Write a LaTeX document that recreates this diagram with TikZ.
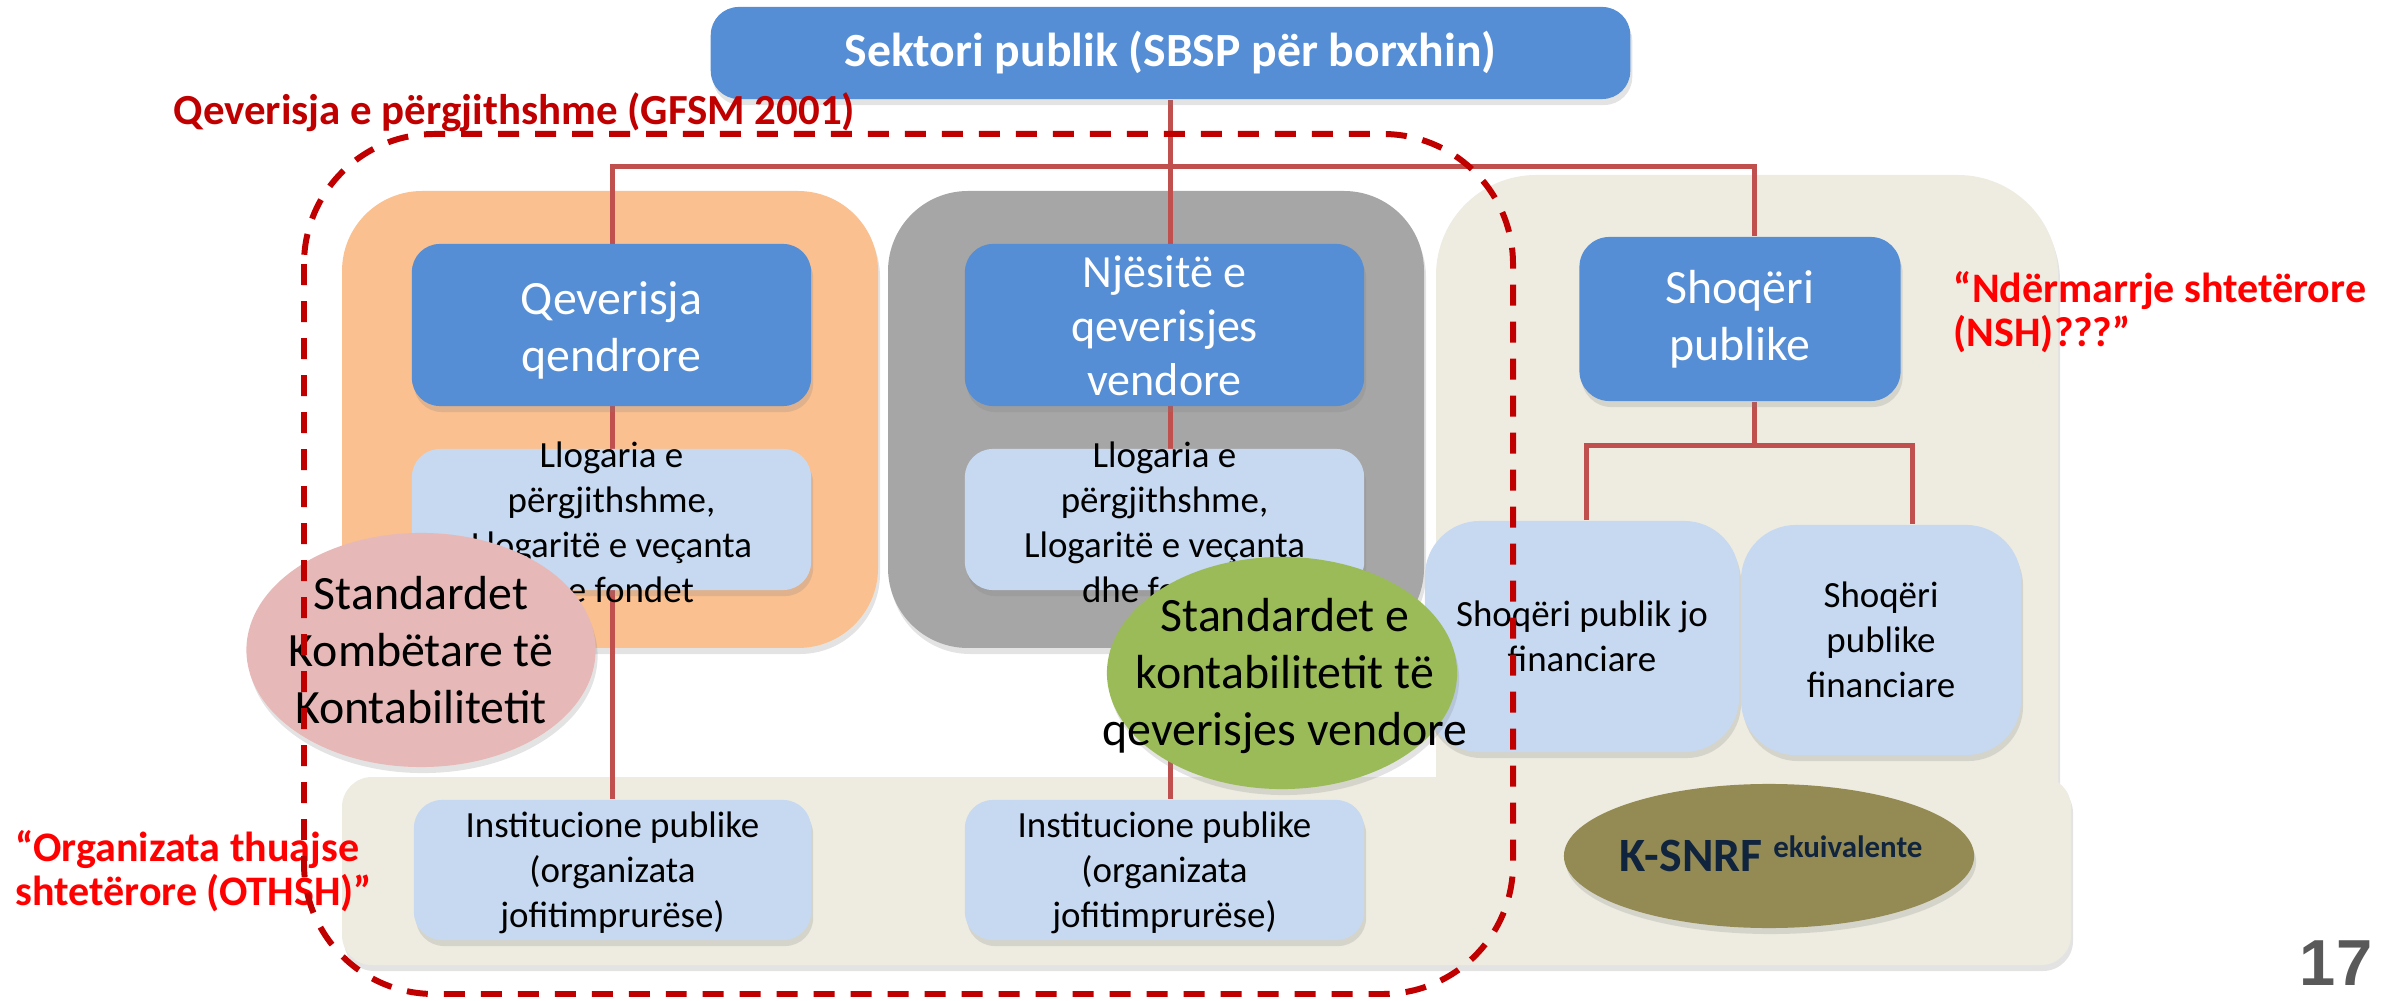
\documentclass[tikz,border=0pt]{standalone}
\usepackage{fontspec}
\setmainfont{Carlito}
\newfontfamily\pagefont{Liberation Sans}
\usetikzlibrary{shapes.geometric,shadows}
\definecolor{boxblue}{HTML}{558ED5}
\definecolor{lightblue}{HTML}{C6D9F1}
\definecolor{orangebg}{HTML}{FAC090}
\definecolor{graybg}{HTML}{A6A6A6}
\definecolor{beige}{HTML}{EEECE1}
\definecolor{pinkell}{HTML}{E6B9B8}
\definecolor{greenell}{HTML}{9BBB59}
\definecolor{oliveell}{HTML}{948A54}
\definecolor{navytxt}{HTML}{10243E}
\definecolor{connred}{HTML}{C0504D}
\definecolor{darkred}{HTML}{C00000}
\definecolor{brightred}{HTML}{FF0000}
\definecolor{pagegray}{HTML}{595959}
\pgfdeclarelayer{bg}
\pgfdeclarelayer{lines}
\pgfsetlayers{bg,lines,main}
\newcommand{\myfs}[2]{\fontsize{#1}{#2}\selectfont}
\begin{document}
\begin{tikzpicture}[x=0.01cm,y=-0.01cm,
 shad/.style={drop shadow={shadow xshift=0.02cm, shadow yshift=-0.06cm, opacity=0.22}},
 bluebox/.style={rectangle, rounded corners=0.28cm, fill=boxblue, draw=none, inner sep=0pt, shad},
 lbox/.style={rectangle, rounded corners=0.28cm, fill=lightblue, draw=none, inner sep=0pt, shad},
 ell/.style={ellipse, inner sep=0pt, draw=none, shad},
 wtxt/.style={text=white, align=center, inner sep=0pt, font={\myfs{13.6}{16.2}}},
 btxt/.style={text=black, align=center, inner sep=0pt, font={\myfs{10.5}{12.8}}},
 bigtxt/.style={text=black, align=center, inner sep=0pt, font={\myfs{13.6}{16.2}}},
 conn/.style={draw=connred, line width=1.42pt},
 govline/.style={draw=darkred, line width=1.7pt, dash pattern=on 5.97pt off 4.55pt},
 redlbl/.style={text=brightred, align=left, inner sep=0pt, font={\bfseries\myfs{11.95}{12.4}}},
]
\useasboundingbox (0,0) rectangle (2395,1001);

% ---------- backgrounds ----------
\begin{pgfonlayer}{bg}
\fill[beige, rounded corners=1cm, shad] (1436,175) rectangle (2058,940);
\fill[beige, rounded corners=0.3cm, shad] (342,777) rectangle (2071,965);
\fill[orangebg, rounded corners=0.8cm, shad] (342,191) rectangle (878,648);
\fill[graybg, rounded corners=0.8cm, shad] (888,191) rectangle (1424,648);
\end{pgfonlayer}

% ---------- boxes ----------
\node[bluebox, minimum width=9.19cm, minimum height=0.92cm, text=white, font={\bfseries\myfs{13.55}{16}}] (top) at (1170.5,53) {Sektori publik (SBSP për borxhin)};

\node[bluebox, minimum width=3.99cm, minimum height=1.62cm] (qq) at (611.5,325) {};
\node[wtxt] (qqt) at (611.5,330) {Qeverisja\\qendrore};
\node[bluebox, minimum width=3.99cm, minimum height=1.62cm] (nje) at (1164.5,325) {};
\node[wtxt, font={\myfs{13.1}{15.4}}] (njet) at (1164.5,326) {Njësitë e\\qeverisjes\\vendore};

\node[lbox, minimum width=3.99cm, minimum height=1.41cm] (llog1) at (611.5,519.5) {};
\node[btxt] (llog1t) at (611.5,522) {Llogaria e\\përgjithshme,\\Llogaritë e veçanta\\dhe fondet};
\node[lbox, minimum width=3.99cm, minimum height=1.41cm] (llog2) at (1164.5,519.5) {};
\node[btxt] (llog2t) at (1164.5,522) {Llogaria e\\përgjithshme,\\Llogaritë e veçanta\\dhe fondet};

\node[lbox, minimum width=3.97cm, minimum height=1.40cm] (inst1) at (612.5,870) {};
\node[btxt] (inst1t) at (612.5,873) {Institucione publike\\(organizata\\jofitimprurëse)};
\node[lbox, minimum width=3.99cm, minimum height=1.40cm] (inst2) at (1164.5,870) {};
\node[btxt] (inst2t) at (1164.5,873) {Institucione publike\\(organizata\\jofitimprurëse)};

\node[bluebox, rounded corners=0.3cm, minimum width=3.21cm, minimum height=1.64cm, wtxt] (sp) at (1740,319) {Shoqëri\\publike};

\node[lbox, rounded corners=0.55cm, minimum width=3.14cm, minimum height=2.31cm, btxt] (sjf) at (1582,636.5) {Shoqëri publik jo\\financiare};
\node[lbox, rounded corners=0.55cm, minimum width=2.80cm, minimum height=2.30cm, btxt] (spf) at (1881,640) {Shoqëri\\publike\\financiare};

% ---------- connectors ----------
\coordinate (hl) at (0,167);
\coordinate (br) at (0,446);
\coordinate (spn) at ([xshift=0.14cm]sp.north);
\coordinate (sps) at ([xshift=0.14cm]sp.south);
\coordinate (sjfn) at ([xshift=0.04cm]sjf.north);
\coordinate (spfn) at ([xshift=0.31cm]spf.north);
\begin{pgfonlayer}{lines}
\draw[conn] (top.south) -- (top.south |- inst2.north);
\draw[conn] (inst1.north) -- (inst1.north |- hl) -| (spn);
\draw[conn] (sps) -- (sps |- br);
\draw[conn] (sjfn) |- (spfn |- br) -- (spfn);
\end{pgfonlayer}

% ---------- ellipses ----------
\node[ell, fill=pinkell, minimum width=3.49cm, minimum height=2.34cm] (pink) at (421,650) {};
\node[bigtxt] (pinkt) at (421,650) {Standardet\\Kombëtare të\\Kontabilitetit};
\node[ell, fill=greenell, minimum width=3.50cm, minimum height=2.32cm] (green) at (1282,673) {};
\node[bigtxt] (greent) at (1285,676) {Standardet e\\kontabilitetit të\\qeverisjes vendore};
\node[ell, fill=oliveell, minimum width=4.10cm, minimum height=1.44cm] (ksnrf) at (1769,856) {};
\node[text=navytxt, inner sep=0pt, font={\bfseries\myfs{13.6}{16}}] (ksnrft) at (1771,854) {K-SNRF \raisebox{4pt}{\myfs{8.8}{10}ekuivalente}};

% ---------- labels ----------
\node[text=darkred, inner sep=0pt, anchor=west, font={\bfseries\myfs{12.2}{14}}] (govt) at (173,112) {Qeverisja e përgjithshme (GFSM 2001)};
\node[redlbl, anchor=west] (nsh) at (1953,312) {“Ndërmarrje shtetërore\\(NSH)???”};
\node[redlbl, anchor=west] (othsh) at (15,871) {“Organizata thuajse\\shtetërore (OTHSH)”};

\draw[govline, rounded corners=1.3cm] (304,134) rectangle (1513,994);

\node[text=pagegray, inner sep=0pt, font={\pagefont\bfseries\myfs{18.5}{20}}] (pg) at (2336,963) {17};
\end{tikzpicture}
\end{document}
